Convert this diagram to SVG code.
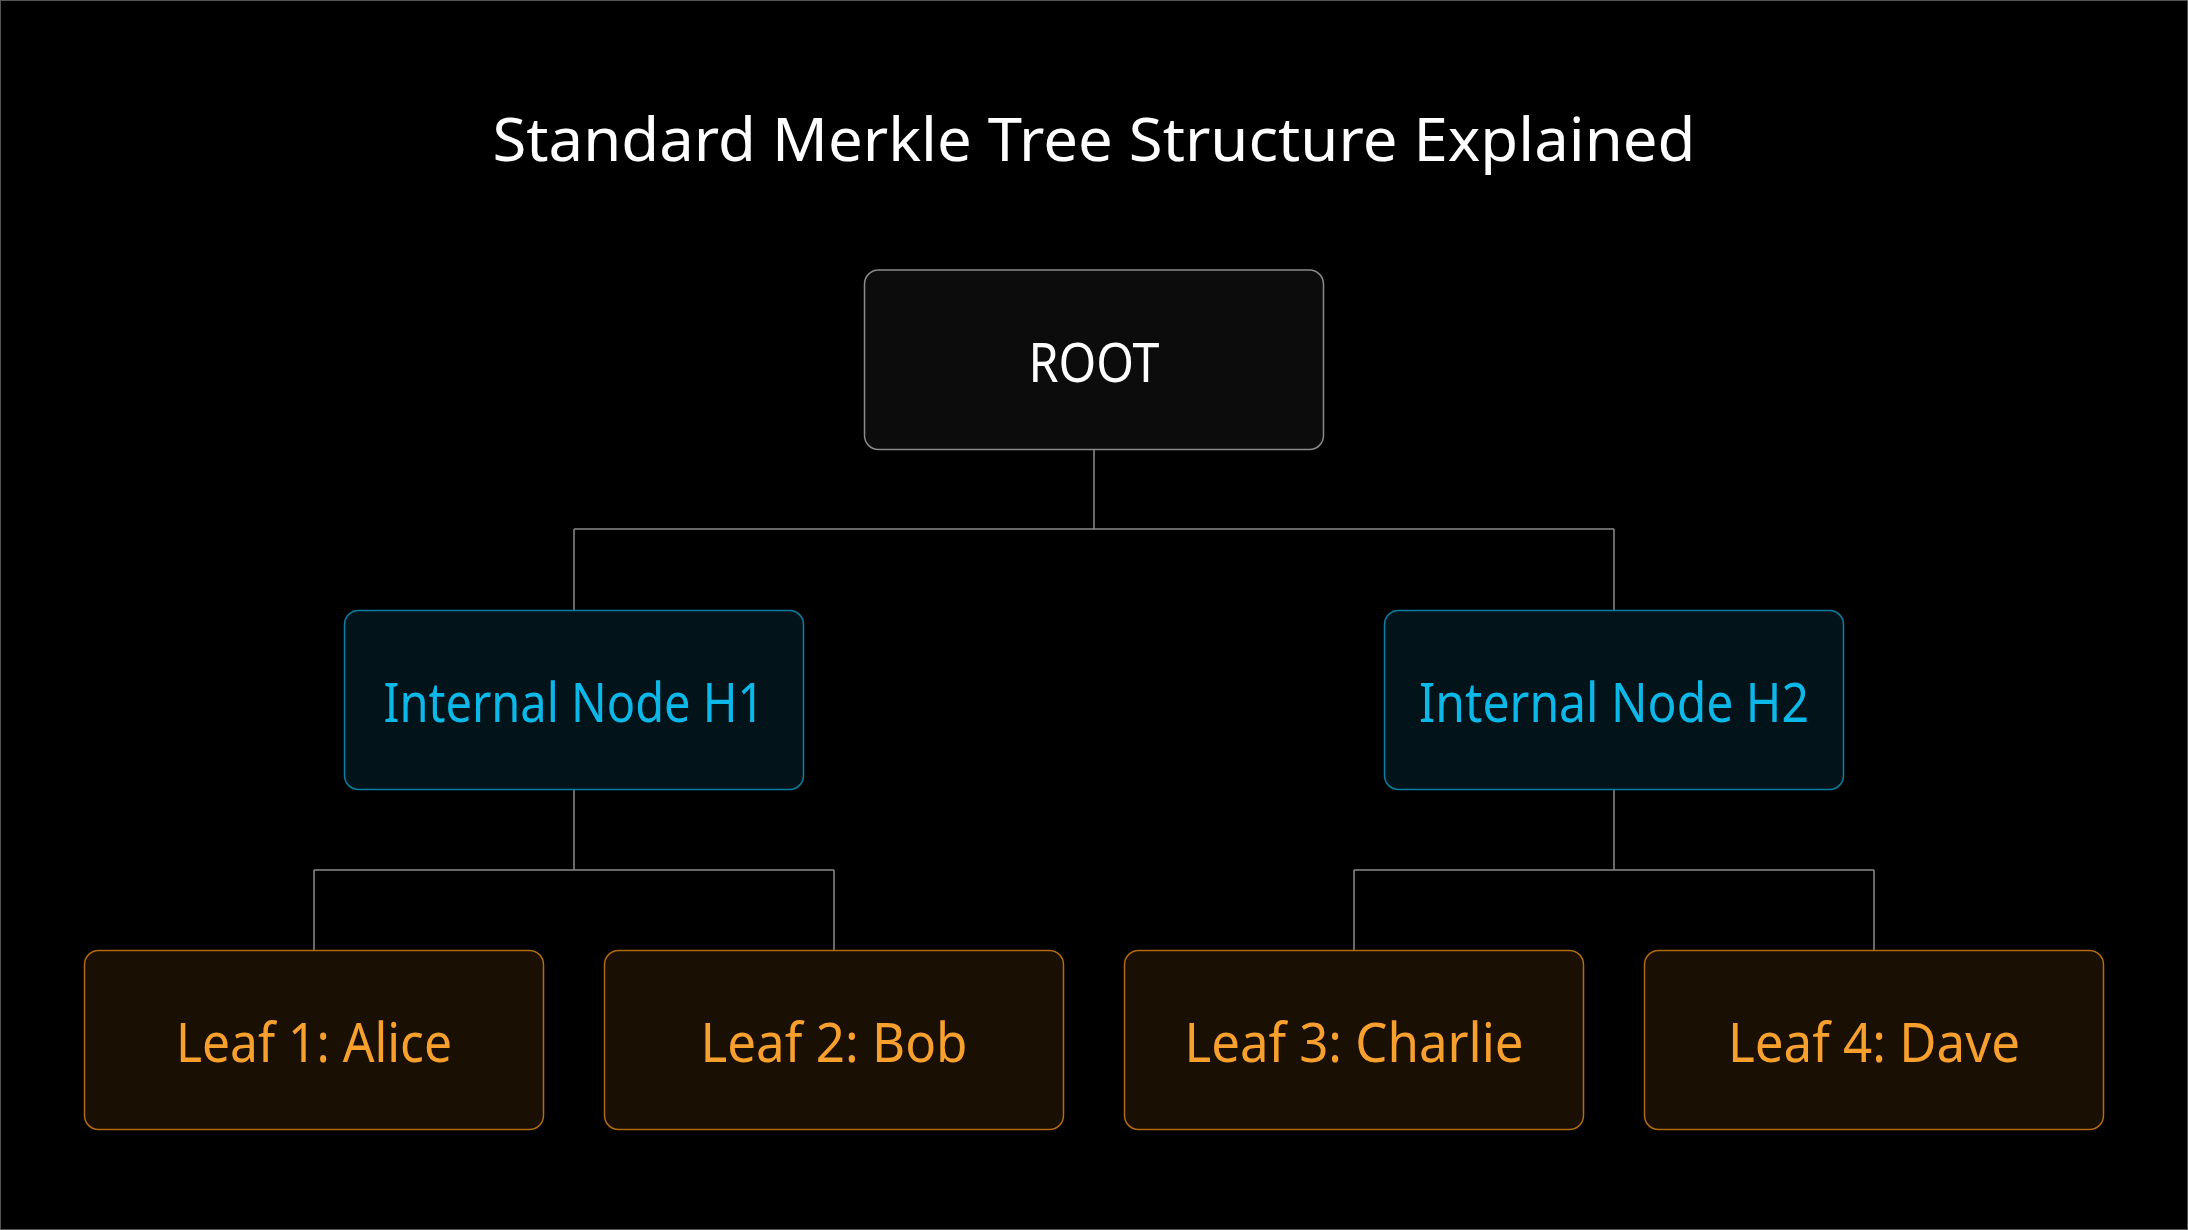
<svg xmlns="http://www.w3.org/2000/svg" width="2188" height="1230" viewBox="0 0 2188 1230">
<style>
.lbl{font-family:"Noto Sans","Liberation Sans",sans-serif;font-size:54px;text-anchor:middle}
.root rect{fill:#0c0c0c;stroke:#8a8a8a;stroke-width:1.5}
.root text{fill:#ffffff}
.int rect{fill:#02131a;stroke:#0b7ea6;stroke-width:1.5}
.int text{fill:#0cb8e8}
.leaf rect{fill:#1a0f03;stroke:#b06a10;stroke-width:1.5}
.leaf text{fill:#f7a02e}
.conn path{fill:none;stroke:#8a8a8a;stroke-width:1.5}
</style>
<rect x="0" y="0" width="2188" height="1230" fill="#000"/>
<rect x="0.5" y="0.5" width="2187" height="1229" fill="none" stroke="#555" stroke-width="1"/>
<text x="1094" y="161" font-family="Noto Sans, Liberation Sans, sans-serif" font-size="60" fill="#ffffff" text-anchor="middle" textLength="1203" lengthAdjust="spacingAndGlyphs">Standard Merkle Tree Structure Explained</text>
<g id="connectors" class="conn">
<path d="M1094 450 V529 M574 529 H1614 M574 529 V610 M1614 529 V610"/>
<path d="M574 790 V870 M314 870 H834 M314 870 V950 M834 870 V950"/>
<path d="M1614 790 V870 M1354 870 H1874 M1354 870 V950 M1874 870 V950"/>
</g>
<g id="root" class="root">
<rect x="864.5" y="270" width="459" height="179.5" rx="14"/>
<text class="lbl" x="1094" y="382" textLength="131" lengthAdjust="spacingAndGlyphs">ROOT</text>
</g>
<g id="h1" class="int">
<rect x="344.5" y="610.5" width="459" height="179" rx="14"/>
<text class="lbl" x="574" y="722" textLength="381" lengthAdjust="spacingAndGlyphs">Internal Node H1</text>
</g>
<g id="h2" class="int">
<rect x="1384.5" y="610.5" width="459" height="179" rx="14"/>
<text class="lbl" x="1614" y="722" textLength="390" lengthAdjust="spacingAndGlyphs">Internal Node H2</text>
</g>
<g id="leaf1" class="leaf">
<rect x="84.5" y="950.5" width="459" height="179" rx="14"/>
<text class="lbl" x="314" y="1062" textLength="276" lengthAdjust="spacingAndGlyphs">Leaf 1: Alice</text>
</g>
<g id="leaf2" class="leaf">
<rect x="604.5" y="950.5" width="459" height="179" rx="14"/>
<text class="lbl" x="834" y="1062" textLength="267" lengthAdjust="spacingAndGlyphs">Leaf 2: Bob</text>
</g>
<g id="leaf3" class="leaf">
<rect x="1124.5" y="950.5" width="459" height="179" rx="14"/>
<text class="lbl" x="1354" y="1062" textLength="339" lengthAdjust="spacingAndGlyphs">Leaf 3: Charlie</text>
</g>
<g id="leaf4" class="leaf">
<rect x="1644.5" y="950.5" width="459" height="179" rx="14"/>
<text class="lbl" x="1874" y="1062" textLength="292" lengthAdjust="spacingAndGlyphs">Leaf 4: Dave</text>
</g>
</svg>
